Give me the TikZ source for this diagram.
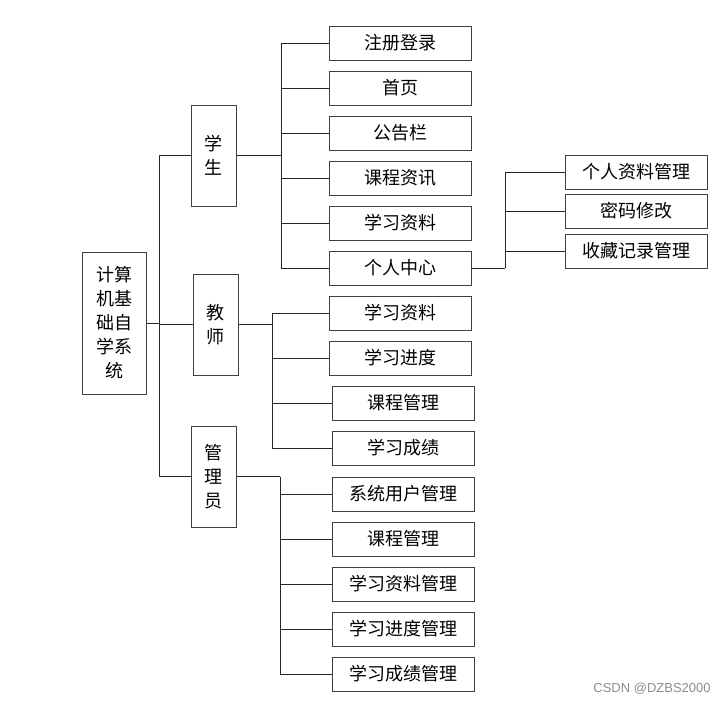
\documentclass[tikz,border=0pt]{standalone}
\usepackage{fontspec}
\newfontfamily\cjk{Noto Sans CJK SC}
\newfontfamily\wmfont{Liberation Sans}
\usetikzlibrary{positioning}

\begin{document}
\begin{tikzpicture}[
        x=1pt, y=-1pt,
        box/.style={draw=black!75, line width=1pt, inner sep=0pt, font=\cjk\fontsize{18}{24}\selectfont},
        leaf/.style={box, minimum width=142pt, minimum height=34pt},
        role/.style={box, minimum width=45pt, minimum height=101pt, align=center},
        e/.style={draw=black!85, line width=0.9pt},
        wm/.style={font=\wmfont\fontsize{13}{15}\selectfont, text=black!45}
    ]
        \useasboundingbox (0,0) rectangle (726,705);

        % 根节点
        \node[box, minimum width=64pt, minimum height=142pt, align=center] (root) at (114,323)
            {计算\\机基\\础自\\学系\\统};

        % 三类用户
        \node[role] (stu) at (213.5,155.5) {学\\生};
        \node[role] (tea) at (215.5,324.5) {教\\师};
        \node[role] (adm) at (213.5,476.5) {管\\理\\员};

        % 学生功能
        \node[leaf] (s1) at (400,43)  {注册登录};
        \node[leaf] (s2) at (400,88)  {首页};
        \node[leaf] (s3) at (400,133) {公告栏};
        \node[leaf] (s4) at (400,178) {课程资讯};
        \node[leaf] (s5) at (400,223) {学习资料};
        \node[leaf] (s6) at (400,268) {个人中心};

        % 个人中心子功能
        \node[leaf] (p1) at (636,172) {个人资料管理};
        \node[leaf] (p2) at (636,211) {密码修改};
        \node[leaf] (p3) at (636,251) {收藏记录管理};

        % 教师功能
        \node[leaf] (t1) at (400,313)   {学习资料};
        \node[leaf] (t2) at (400,358)   {学习进度};
        \node[leaf] (t3) at (403.5,403) {课程管理};
        \node[leaf] (t4) at (403.5,448) {学习成绩};

        % 管理员功能
        \node[leaf] (a1) at (403.5,494) {系统用户管理};
        \node[leaf] (a2) at (403.5,539) {课程管理};
        \node[leaf] (a3) at (403.5,584) {学习资料管理};
        \node[leaf] (a4) at (403.5,629) {学习进度管理};
        \node[leaf] (a5) at (403.5,674) {学习成绩管理};

        % 分支点
        \coordinate (rb) at (159,323);
        \coordinate (sb) at (281,155.5);
        \coordinate (pb) at (505,268);
        \coordinate (tb) at (272,324.5);
        \coordinate (ab) at (280,476.5);

        % 连线
        \draw[e] (root.east) -- (rb);
        \foreach \n in {stu,tea,adm}
            \draw[e] (rb) |- (\n.west);
        \draw[e] (stu.east) -- (sb);
        \foreach \i in {1,...,6}
            \draw[e] (sb) |- (s\i.west);
        \draw[e] (s6.east) -- (pb);
        \foreach \i in {1,2,3}
            \draw[e] (pb) |- (p\i.west);
        \draw[e] (tea.east) -- (tb);
        \foreach \i in {1,...,4}
            \draw[e] (tb) |- (t\i.west);
        \draw[e] (adm.east) -- (ab);
        \foreach \i in {1,...,5}
            \draw[e] (ab) |- (a\i.west);

        % 水印
        \node[wm] (mark) at (652,689) {CSDN @DZBS2000};

    \end{tikzpicture}
\end{document}
